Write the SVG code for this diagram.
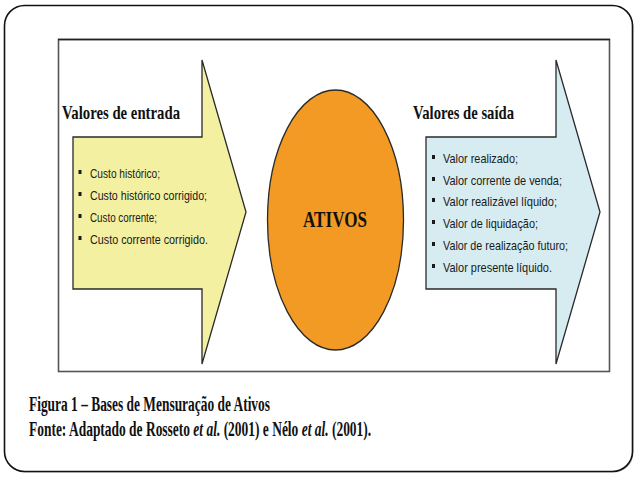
<svg xmlns="http://www.w3.org/2000/svg" width="640" height="480" viewBox="0 0 640 480">
<style>
.h{font-family:"Liberation Serif","Times New Roman",serif;font-weight:bold;fill:#111;}
.i{font-style:italic;}
.b{font-family:"Liberation Sans",Arial,sans-serif;font-size:13.5px;fill:#1a1a1a;}
.arrow{stroke:#2a2a2a;stroke-width:1.3;stroke-linejoin:miter;}
.bul{fill:#1a1a1a;}
</style>
<rect x="5.5" y="6.5" width="628" height="466" rx="20" fill="#bbb"/>
<rect x="4.5" y="5.5" width="628" height="466" rx="20" fill="#fff" stroke="#111" stroke-width="1.6"/>
<rect x="58.5" y="39.5" width="551" height="332" fill="#fff" stroke="#555" stroke-width="1.6"/>
<line x1="58" y1="39.5" x2="610" y2="39.5" stroke="#222" stroke-width="1.6"/>
<g id="entrada">
<path class="arrow" d="M73,137 H202 V60 L246,212 L202,364 V289 H73 Z" fill="#F4F0A2"/>
<text class="h" x="62" y="119" font-size="19" textLength="118" lengthAdjust="spacingAndGlyphs">Valores de entrada</text>
<rect class="bul" x="78.5" y="170" width="3" height="4"/>
<rect class="bul" x="78.5" y="192" width="3" height="4"/>
<rect class="bul" x="78.5" y="214" width="3" height="4"/>
<rect class="bul" x="78.5" y="236" width="3" height="4"/>
<text class="b" x="90" y="178" textLength="70" lengthAdjust="spacingAndGlyphs">Custo histórico;</text>
<text class="b" x="90" y="200" textLength="117" lengthAdjust="spacingAndGlyphs">Custo histórico corrigido;</text>
<text class="b" x="90" y="222" textLength="67" lengthAdjust="spacingAndGlyphs">Custo corrente;</text>
<text class="b" x="90" y="244" textLength="118" lengthAdjust="spacingAndGlyphs">Custo corrente corrigido.</text>
</g>
<g id="ativos">
<ellipse cx="335.5" cy="220" rx="68" ry="130" fill="#F29A24" stroke="#2a2a2a" stroke-width="1.3"/>
<text class="h" x="335" y="227" font-size="24" text-anchor="middle" textLength="64" lengthAdjust="spacingAndGlyphs">ATIVOS</text>
</g>
<g id="saida">
<path class="arrow" d="M426,137 H556 V60 L600,212 L556,364 V289 H426 Z" fill="#D6ECF0"/>
<text class="h" x="413" y="119" font-size="19" textLength="101" lengthAdjust="spacingAndGlyphs">Valores de saída</text>
<rect class="bul" x="432" y="155" width="3" height="4"/>
<rect class="bul" x="432" y="177" width="3" height="4"/>
<rect class="bul" x="432" y="198" width="3" height="4"/>
<rect class="bul" x="432" y="220" width="3" height="4"/>
<rect class="bul" x="432" y="242" width="3" height="4"/>
<rect class="bul" x="432" y="264" width="3" height="4"/>
<text class="b" x="443" y="163" textLength="75" lengthAdjust="spacingAndGlyphs">Valor realizado;</text>
<text class="b" x="443" y="185" textLength="119" lengthAdjust="spacingAndGlyphs">Valor corrente de venda;</text>
<text class="b" x="443" y="206" textLength="114" lengthAdjust="spacingAndGlyphs">Valor realizável líquido;</text>
<text class="b" x="443" y="228" textLength="95" lengthAdjust="spacingAndGlyphs">Valor de liquidação;</text>
<text class="b" x="443" y="250" textLength="125" lengthAdjust="spacingAndGlyphs">Valor de realização futuro;</text>
<text class="b" x="443" y="272" textLength="109" lengthAdjust="spacingAndGlyphs">Valor presente líquido.</text>
</g>
<g id="legenda">
<text class="h" x="29" y="411" font-size="20" textLength="241" lengthAdjust="spacingAndGlyphs">Figura 1 – Bases de Mensuração de Ativos</text>
<text class="h" font-size="20" transform="translate(29,436) scale(0.673,1)">Fonte: Adaptado de Rosseto <tspan class="i">et al.</tspan> (2001) e Nélo <tspan class="i">et al.</tspan> (2001).</text>
</g>
</svg>
